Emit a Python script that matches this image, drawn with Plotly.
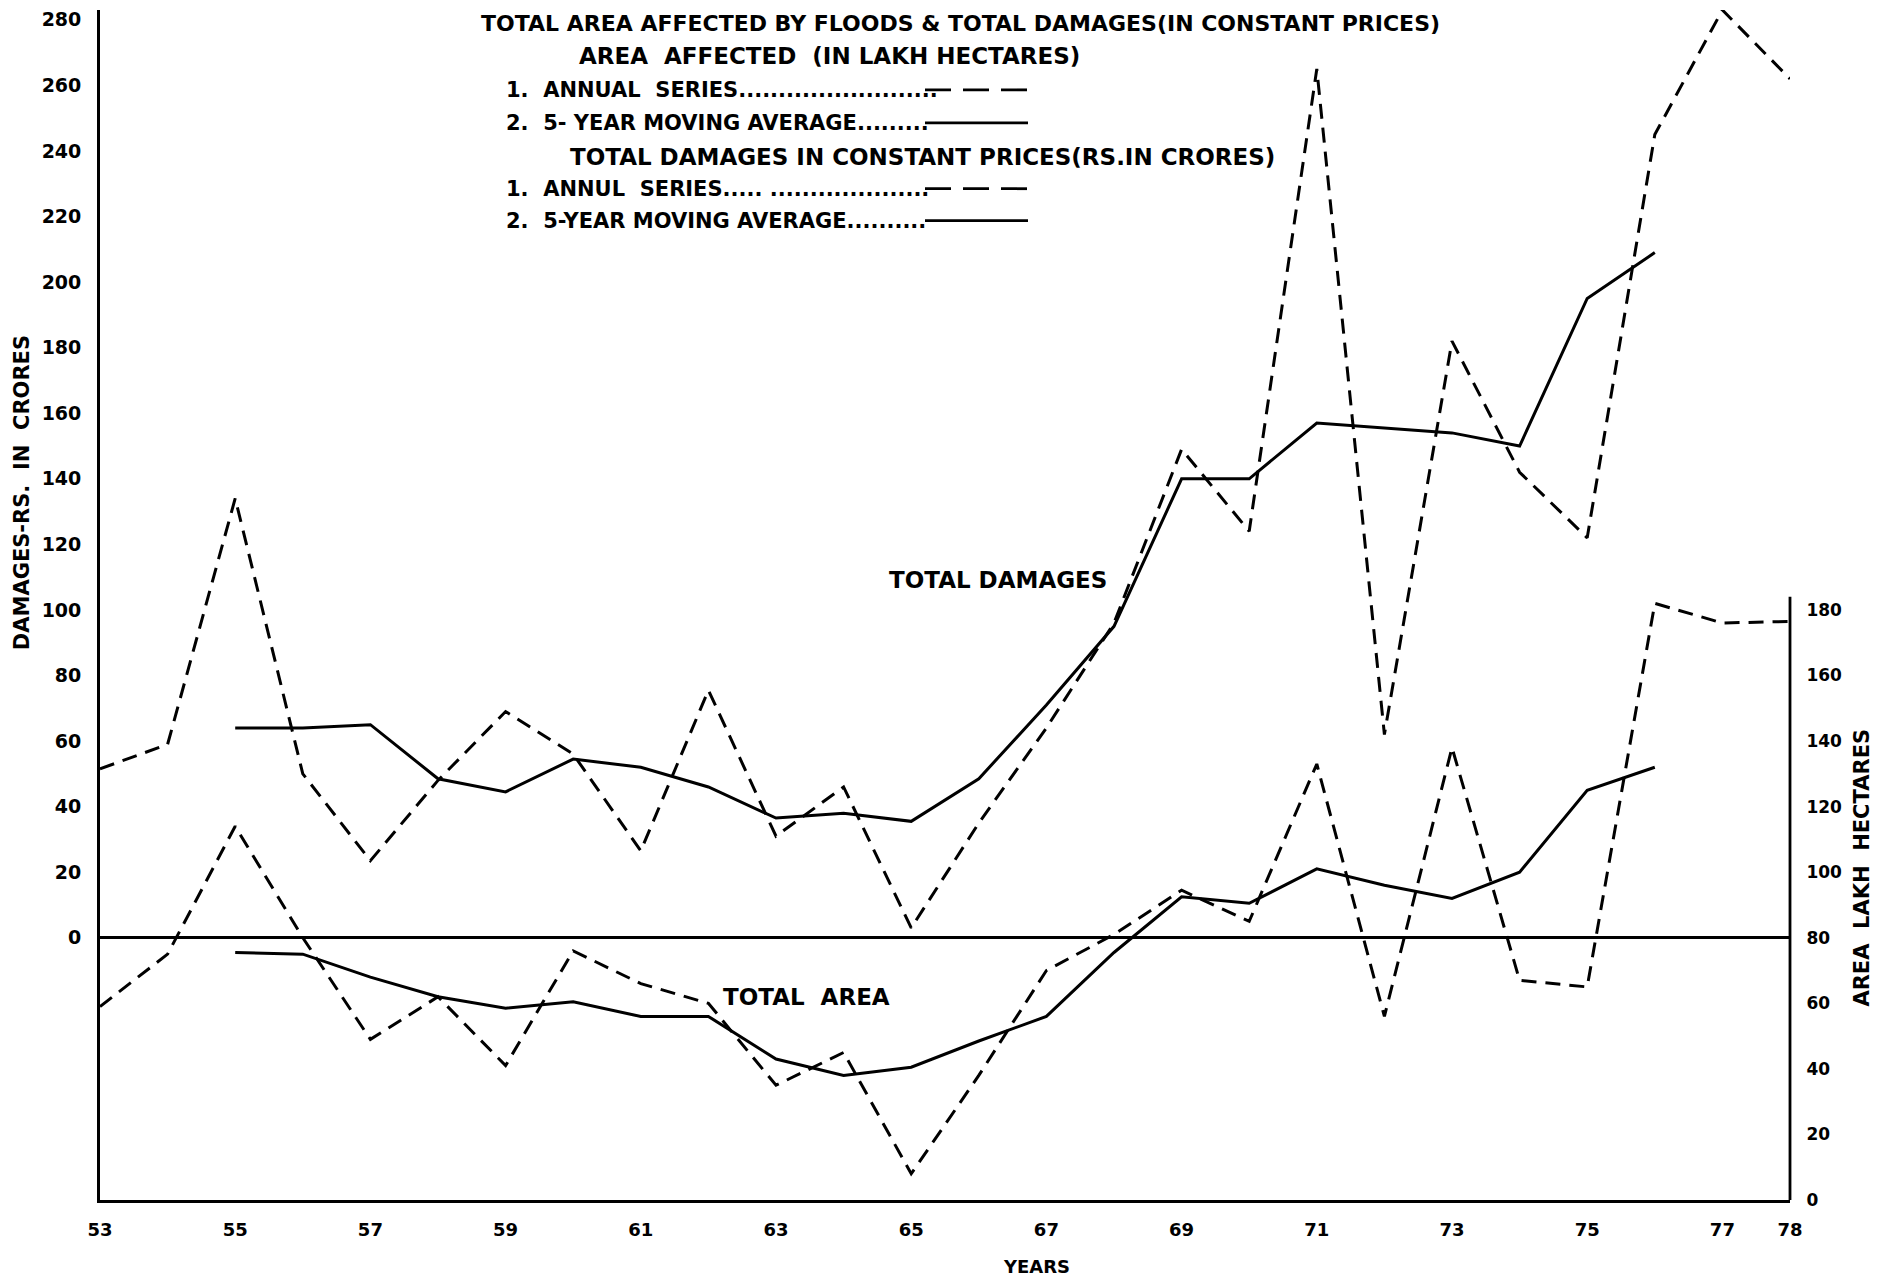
import plotly.graph_objects as go

# ---------------- data ----------------
years = list(range(53, 79))
ma_years = list(range(55, 77))

damages_annual = [51.5, 59, 134, 50, 23.5, 48, 69, 56, 26.5, 75.5, 31, 46, 3,
                  35, 64, 96, 149, 124, 265, 62, 182, 142, 122, 245, 283, 262]
damages_ma = [64, 64, 65, 48.5, 44.5, 54.5, 52, 46, 36.5, 38, 35.5, 48.5, 71,
              95, 140, 140, 157, 155.5, 154, 150, 195, 209]

area_annual = [59, 75, 114, 80, 49, 62, 41, 76, 66, 60, 35, 45, 8, 38, 70, 81,
               94.5, 85, 133, 56, 138, 67, 65, 182, 176, 176.5]
area_ma = [75.5, 75, 68, 62, 58.5, 60.5, 56, 56, 43, 38, 40.5, 48.5, 56, 75.5,
           92.5, 90.5, 101, 96, 92, 100, 125, 132]

x_tickvals = [53, 55, 57, 59, 61, 63, 65, 67, 69, 71, 73, 75, 77, 78]
left_tickvals = list(range(0, 281, 20))
right_tickvals = list(range(0, 181, 20))

# ---------------- figure ----------------
OFF = 8                      # page body margin
W, H = 1883 - OFF, 1284 - OFF
ML, MR, MT, MB = 100 - OFF, W - (1790 - OFF), 0, H - (1200 - OFF)
PW, PH = W - ML - MR, H - MT - MB

FONT = "DejaVu Sans"
BLACK = "#000000"
DASH = "15px,9px"
LW = 3

fig = go.Figure()
fig.add_trace(go.Scatter(x=years, y=damages_annual, mode="lines", yaxis="y",
                         line=dict(color=BLACK, width=LW, dash=DASH),
                         name="Damages annual", showlegend=False))
fig.add_trace(go.Scatter(x=ma_years, y=damages_ma, mode="lines", yaxis="y",
                         line=dict(color=BLACK, width=LW),
                         name="Damages 5-yr MA", showlegend=False))
fig.add_trace(go.Scatter(x=years, y=area_annual, mode="lines", yaxis="y2",
                         line=dict(color=BLACK, width=LW, dash=DASH),
                         name="Area annual", showlegend=False))
fig.add_trace(go.Scatter(x=ma_years, y=area_ma, mode="lines", yaxis="y2",
                         line=dict(color=BLACK, width=LW),
                         name="Area 5-yr MA", showlegend=False))


def px(xp):
    # page pixel -> paper x
    return (xp - OFF - ML) / PW


def py(yp):
    # page pixel -> paper y
    return (H - MB - (yp - OFF)) / PH


annotations = []


def add_text(text, xp, yp, size=22, xanchor="center", angle=0):
    annotations.append(dict(text=text, x=px(xp), y=py(yp), xref="paper", yref="paper",
                            showarrow=False, xanchor=xanchor, yanchor="middle",
                            textangle=angle,
                            font=dict(family=FONT, size=size, color=BLACK, weight="bold")))


add_text("TOTAL AREA AFFECTED BY FLOODS &amp; TOTAL DAMAGES(IN CONSTANT PRICES)", 960, 22, size=22)
add_text("AREA  AFFECTED  (IN LAKH HECTARES)", 829, 54, size=23)
add_text("1.  ANNUAL  SERIES.........................", 504, 88, xanchor="left", size=21)
add_text("2.  5- YEAR MOVING AVERAGE.........", 504, 121, xanchor="left", size=21)
add_text("TOTAL DAMAGES IN CONSTANT PRICES(RS.IN CRORES)", 922, 155, size=23)
add_text("1.  ANNUL  SERIES..... ....................", 504, 187, xanchor="left", size=21)
add_text("2.  5-YEAR MOVING AVERAGE..........", 504, 219, xanchor="left", size=21)
add_text("TOTAL DAMAGES", 998, 579, size=23)
add_text("TOTAL  AREA", 806, 997, size=23)
add_text("DAMAGES-RS.  IN  CRORES", 22, 492, size=21, angle=-90)
add_text("AREA  LAKH  HECTARES", 1862, 867, size=21, angle=-90)
add_text("YEARS", 1036, 1267, size=18)

shapes = []
for yp, dash in [(88, "26px,12px"), (121, "solid"), (187, "26px,12px"), (219, "solid")]:
    shapes.append(dict(type="line", xref="paper", yref="paper",
                       x0=px(925), x1=px(1028), y0=py(yp), y1=py(yp),
                       line=dict(color=BLACK, width=2.8, dash=dash)))
# right axis line (only spans the area scale)
shapes.append(dict(type="line", xref="paper", yref="y2", x0=1, x1=1, y0=0, y1=184,
                   line=dict(color=BLACK, width=2.8)))

fig.update_layout(
    width=W, height=H,
    margin=dict(l=ML, r=MR, t=MT, b=MB, pad=0),
    paper_bgcolor="white", plot_bgcolor="white",
    showlegend=False,
    annotations=annotations, shapes=shapes,
    xaxis=dict(range=[53, 78], tickvals=x_tickvals, ticktext=[str(v) for v in x_tickvals],
               showgrid=False, zeroline=False, showline=True, linecolor=BLACK, linewidth=2.8,
               ticks="outside", ticklen=11, tickcolor="rgba(0,0,0,0)",
               tickfont=dict(family=FONT, size=18, color=BLACK, weight="bold"),
               ticklabeloverflow="allow"),
    yaxis=dict(range=[-80, 283], tickvals=left_tickvals, showgrid=False,
               zeroline=True, zerolinecolor=BLACK, zerolinewidth=2.8,
               showline=True, linecolor=BLACK, linewidth=2.8,
               ticks="outside", ticklen=12, tickcolor="rgba(0,0,0,0)",
               tickfont=dict(family=FONT, size=19, color=BLACK, weight="bold"),
               ticklabeloverflow="allow"),
    yaxis2=dict(range=[0, 363], tickvals=right_tickvals, overlaying="y", side="right",
                showgrid=False, zeroline=False, showline=False,
                ticks="outside", ticklen=12, tickcolor="rgba(0,0,0,0)",
                tickfont=dict(family=FONT, size=17, color=BLACK, weight="bold"),
                ticklabeloverflow="allow"),
)

fig.write_html("out.html")
